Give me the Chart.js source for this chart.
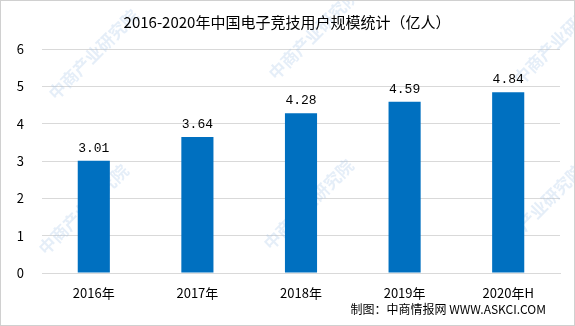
<!DOCTYPE html>
<html>
<head>
<meta charset="utf-8">
<script src="https://cdn.jsdelivr.net/npm/chart.js@4/dist/chart.umd.min.js"></script>
<style>
  html, body { margin: 0; padding: 0; background: #fff; }
  #wrap { width: 573px; height: 324px; border: 1px solid #d0d0d0; position: relative; }
</style>
</head>
<body>
<div id="wrap"><canvas id="userChart" width="573" height="324"></canvas></div>
<script>
// Chart data
const years = ["2016年", "2017年", "2018年", "2019年", "2020年H"];
const users = [3.01, 3.64, 4.28, 4.59, 4.84];
const yTicks = [0, 1, 2, 3, 4, 5, 6];

const chartTitle = "2016-2020年中国电子竞技用户规模统计（亿人）";
const sourceNote = "制图：中商情报网 WWW.ASKCI.COM";
const watermark = "中商产业研究院";

const FONT = "'Noto Sans CJK SC', 'DejaVu Sans', sans-serif";

// title, footer, watermark, value labels
const decorPlugin = {
  id: "decor",
  beforeDatasetsDraw(chart) {
    const ctx = chart.ctx;
    ctx.save();
    ctx.fillStyle = "rgba(160,195,230,0.28)";
    ctx.font = "bold 17px " + FONT;
    const spots = [[55, 100], [275, 80], [520, 85], [45, 255], [270, 250], [500, 255]];
    spots.forEach(([x, y]) => {
      ctx.save();
      ctx.translate(x, y);
      ctx.rotate(-Math.PI / 4);
      ctx.fillText(watermark, 0, 0);
      ctx.restore();
    });
    ctx.restore();
  },
  afterDatasetsDraw(chart) {
    const ctx = chart.ctx;
    ctx.save();
    // value labels
    ctx.fillStyle = "#000";
    ctx.font = "13px 'Liberation Mono', " + FONT;
    ctx.textAlign = "center";
    ctx.textBaseline = "bottom";
    chart.getDatasetMeta(0).data.forEach((bar, i) => {
      ctx.fillText(users[i].toFixed(2), bar.x, bar.y - 6);
    });
    // title
    ctx.font = "15px " + FONT;
    ctx.textBaseline = "middle";
    ctx.fillText(chartTitle, 286, 21);
    // footer
    ctx.font = "12px " + FONT;
    ctx.textAlign = "right";
    ctx.fillText(sourceNote, 545, 308);
    ctx.restore();
  }
};

new Chart(document.getElementById("userChart"), {
  type: "bar",
  data: {
    labels: years,
    datasets: [{
      data: users,
      backgroundColor: "#0070c0",
      barPercentage: 0.31,
      categoryPercentage: 1
    }]
  },
  options: {
    responsive: false,
    animation: false,
    layout: { padding: { top: 48, left: 0, right: 14, bottom: 0 } },
    plugins: {
      legend: { display: false },
      title: { display: false },
      tooltip: { enabled: false }
    },
    scales: {
      x: {
        grid: { display: false },
        border: { color: "#d9d9d9" },
        ticks: { color: "#000", font: { family: FONT, size: 13 }, padding: 4 },
        afterFit(scale) { scale.height = 52; }
      },
      y: {
        min: 0,
        max: 6,
        afterBuildTicks(scale) { scale.ticks = yTicks.map(v => ({ value: v })); },
        grid: { color: "#d9d9d9", drawTicks: false },
        border: { display: false },
        ticks: { color: "#000", font: { family: FONT, size: 13 }, padding: 18 },
        afterFit(scale) { scale.width = 41; }
      }
    }
  },
  plugins: [decorPlugin]
});
</script>
</body>
</html>
